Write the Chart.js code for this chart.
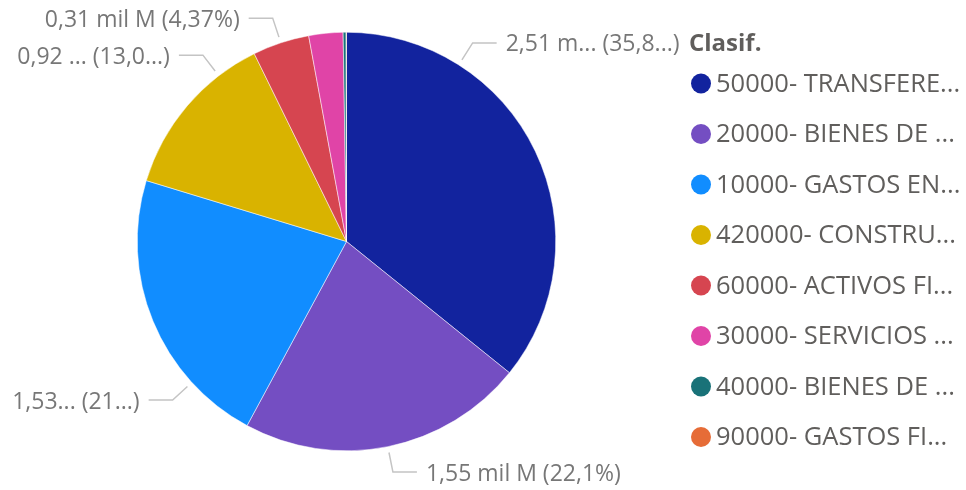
<!DOCTYPE html>
<html>
<head>
<meta charset="utf-8">
<title>Clasif.</title>
<script src="https://cdn.jsdelivr.net/npm/chart.js@4.4.1/dist/chart.umd.min.js"></script>
<style>
  body { margin: 0; background: #fff; }
  #wrap { width: 966px; height: 490px; position: relative; }
</style>
</head>
<body>
<div id="wrap"><canvas id="myChart"></canvas></div>
<script>
// categories (as shown, truncated like in the report)
const categories = [
  '50000- TRANSFERE...',
  '20000- BIENES DE ...',
  '10000- GASTOS EN...',
  '420000- CONSTRU...',
  '60000- ACTIVOS FI...',
  '30000- SERVICIOS ...',
  '40000- BIENES DE ...',
  '90000- GASTOS FI...'
];

// values in "mil M"
const values = [2.51, 1.549, 1.53, 0.914, 0.3065, 0.185, 0.016, 0.002];

// data label texts (null = no label)
const dataLabels = [
  '2,51 m... (35,8...)',
  '1,55 mil M (22,1%)',
  '1,53... (21...)',
  '0,92 ... (13,0...)',
  '0,31 mil M (4,37%)',
  null, null, null
];

const colors = ['#12239E', '#744EC2', '#118DFF', '#D9B300', '#D64550', '#E044A7', '#197278', '#E66C37'];

// where along the slice the leader line leaves (degrees away from mid angle)
const labelShift = [-32, 0, -20, 12, 0, 0, 0, 0];

const FONT = '"Open Sans", "Noto Sans", sans-serif';

// outside labels with leader lines
const outsideLabels = {
  id: 'outsideLabels',
  afterDatasetsDraw(chart) {
    const ctx = chart.ctx;
    const arcs = chart.getDatasetMeta(0).data;
    ctx.save();
    ctx.font = '23px ' + FONT;
    ctx.textBaseline = 'middle';
    arcs.forEach((arc, i) => {
      if (!dataLabels[i]) return;
      const r = arc.outerRadius;
      const a = (arc.startAngle + arc.endAngle) / 2 + labelShift[i] * Math.PI / 180;
      const x1 = arc.x + Math.cos(a) * (r + 6);
      const y1 = arc.y + Math.sin(a) * (r + 6);
      const x2 = arc.x + Math.cos(a) * (r + 26);
      const y2 = arc.y + Math.sin(a) * (r + 26);
      const right = Math.cos(a) >= 0;
      const x3 = x2 + (right ? 24 : -24);
      ctx.strokeStyle = '#c4c4c4';
      ctx.lineWidth = 1.5;
      ctx.beginPath();
      ctx.moveTo(x1, y1);
      ctx.lineTo(x2, y2);
      ctx.lineTo(x3, y2);
      ctx.stroke();
      ctx.fillStyle = '#777777';
      ctx.textAlign = right ? 'left' : 'right';
      ctx.fillText(dataLabels[i], x3 + (right ? 9 : -9), y2 + 2);
    });
    ctx.restore();
  }
};

// legend on the right
const sideLegend = {
  id: 'sideLegend',
  afterDraw(chart) {
    const ctx = chart.ctx;
    ctx.save();
    ctx.textBaseline = 'middle';
    ctx.textAlign = 'left';
    ctx.fillStyle = '#605E5C';
    ctx.font = 'bold 24px ' + FONT;
    ctx.fillText('Clasif.', 689, 44);
    ctx.font = '25.5px ' + FONT;
    categories.forEach((c, i) => {
      const y = 83.5 + i * 50.5;
      ctx.fillStyle = colors[i];
      ctx.beginPath();
      ctx.arc(701, y, 10, 0, Math.PI * 2);
      ctx.fill();
      ctx.fillStyle = '#605E5C';
      ctx.fillText(c, 716, y + 1);
    });
    ctx.restore();
  }
};

const myChart = document.getElementById('myChart');

let pieChart = new Chart(myChart, {
  type: 'pie',
  data: {
    labels: categories,
    datasets: [{
      data: values,
      backgroundColor: colors,
      borderColor: '#ffffff',
      borderWidth: 0.5
    }]
  },
  options: {
    responsive: true,
    maintainAspectRatio: false,
    animation: false,
    layout: { padding: { left: 137, top: 32, bottom: 39, right: 410 } },
    plugins: {
      legend: { display: false },
      tooltip: { enabled: false }
    }
  },
  plugins: [outsideLabels, sideLegend]
});
</script>
</body>
</html>
